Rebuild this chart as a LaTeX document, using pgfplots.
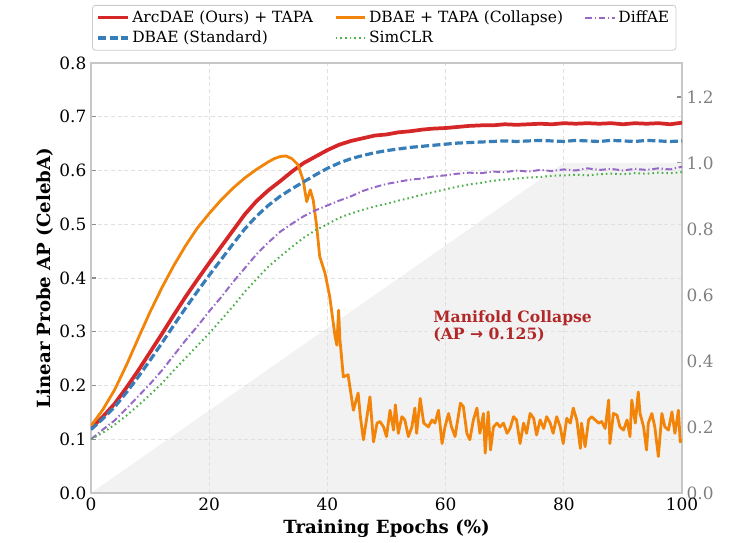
\documentclass[border=0pt]{standalone}
\usepackage{fontspec}
\setmainfont{DejaVu Serif}
\newfontfamily\arrowfont{DejaVu Sans}
\usepackage{pgfplots}
\pgfplotsset{compat=1.18}

\definecolor{cRed}{RGB}{214,39,40}
\definecolor{cOrange}{RGB}{242,132,10}
\definecolor{cBlue}{RGB}{55,126,184}
\definecolor{cGreen}{RGB}{77,175,74}
\definecolor{cPurple}{RGB}{150,105,200}
\definecolor{cNote}{RGB}{178,40,40}

\begin{document}
\begin{tikzpicture}
% secondary axis: shaded region
\begin{axis}[
  scale only axis, width=443.25pt, height=322.5pt,
  xmin=0, xmax=100, ymin=0, ymax=1.303,
  axis x line=none, axis y line*=right,
  y axis line style={draw=none},
  ytick={0,0.2,0.4,0.6,0.8,1.0,1.2},
  /pgf/number format/assume math mode=true,
  yticklabel style={text=black!50, font=\fontsize{12.7}{14}\selectfont,
    /pgf/number format/.cd, fixed, fixed zerofill, precision=1},
  ytick style={draw=black!45, line width=0.8pt},
  major tick length=3.5pt,
]
\addplot[draw=none, fill=black!5] coordinates {(0,0) (80,1) (100,1)} \closedcycle;
\end{axis}

% main axis
\begin{axis}[
  scale only axis, width=443.25pt, height=322.5pt,
  xmin=0, xmax=100, ymin=0, ymax=0.8,
  xtick={0,20,40,60,80,100},
  ytick={0,0.1,0.2,0.3,0.4,0.5,0.6,0.7,0.8},
  /pgf/number format/assume math mode=true,
  ticklabel style={font=\fontsize{12.7}{14}\selectfont},
  yticklabel style={/pgf/number format/.cd, fixed, fixed zerofill, precision=1},
  xtick style={draw=none},
  ytick style={draw=black!45, line width=0.8pt},
  ytick pos=left,
  major tick length=3.5pt,
  grid=major,
  major grid style={draw=black!12, line width=0.6pt, dash pattern=on 3pt off 2pt},
  axis line style={draw=black!22, line width=1.3pt},
  xlabel={Training Epochs (\%)},
  ylabel={Linear Probe AP (CelebA)},
  label style={font=\fontsize{13.6}{15}\selectfont\bfseries},
  ylabel style={yshift=-2pt},
  legend style={at={(0.002,1.135)}, anchor=north west, legend columns=3,
    draw=black!20, line width=0.6pt, rounded corners=2pt,
    font=\fontsize{11.6}{13.5}\selectfont,
    /tikz/every even column/.append style={column sep=14pt},
    /tikz/row sep=1pt},
  legend cell align=left,
  legend image code/.code={\draw[#1] (0pt,0pt) -- (22pt,0pt);},
]
\addplot[cRed, line width=2.8pt, line join=round] coordinates {
(0,0.120) (2,0.142) (4,0.166) (6,0.196) (8,0.228) (10,0.262) (12,0.296) (14,0.331)
(16,0.365) (18,0.397) (20,0.428) (22,0.458) (24,0.488) (26,0.518) (28,0.543) (30,0.563)
(32,0.580) (34,0.598) (36,0.614) (38,0.626) (40,0.638) (42,0.648) (44,0.655) (46,0.660)
(48,0.665) (50,0.667) (52,0.671) (54,0.673) (56,0.676) (58,0.678) (60,0.679) (62,0.681)
(64,0.683) (66,0.684) (68,0.684) (70,0.686) (72,0.685) (74,0.686) (76,0.687) (78,0.686)
(80,0.688) (82,0.687) (84,0.688) (86,0.687) (88,0.688) (90,0.686) (92,0.688) (94,0.687)
(96,0.688) (98,0.686) (100,0.689)};
\addlegendentry{ArcDAE (Ours) + TAPA}

\addplot[cOrange, line width=2.1pt, line join=round] coordinates {
(0,0.125) (2,0.155) (4,0.192) (6,0.238) (8,0.288) (10,0.337) (12,0.382) (14,0.423)
(16,0.460) (18,0.493) (20,0.520) (22,0.545) (24,0.567) (26,0.586) (28,0.602) (30,0.616)
(31,0.622) (32,0.626) (33,0.627) (34,0.622) (35,0.611) (35.9,0.582) (36.5,0.542) (37.1,0.564)
(37.6,0.545) (38.2,0.495) (38.7,0.440) (39.6,0.409) (40.4,0.365) (41.3,0.291) (41.6,0.275)
(41.9,0.340) (42.1,0.288) (42.7,0.216) (43.5,0.220) (44.4,0.154) (45.2,0.186) (45.6,0.140)
(46.1,0.099) (47.2,0.179) (47.8,0.095) (48.4,0.130) (48.9,0.133) (49.5,0.123) (50.0,0.105)
(50.6,0.154) (51.2,0.117) (51.5,0.164) (52.0,0.111) (52.6,0.142) (53.1,0.136) (53.7,0.105)
(54.3,0.123) (54.8,0.158) (55.1,0.111) (55.7,0.176) (56.3,0.130) (57.1,0.123) (57.7,0.136)
(58.2,0.130) (58.8,0.154) (59.4,0.092) (59.9,0.123) (60.5,0.148) (61.0,0.123) (61.6,0.105)
(62.5,0.167) (63.0,0.161) (63.6,0.111) (64.1,0.099) (64.7,0.136) (65.3,0.158) (65.8,0.111)
(66.4,0.148) (66.7,0.074) (67.2,0.151) (67.6,0.080) (68.1,0.123) (68.7,0.130) (69.2,0.123)
(69.8,0.130) (70.4,0.111) (70.9,0.120) (71.5,0.142) (72.0,0.136) (72.6,0.092) (73.2,0.130)
(73.7,0.111) (74.3,0.148) (74.9,0.139) (75.4,0.108) (76.0,0.136) (76.6,0.120) (77.1,0.142)
(77.7,0.130) (78.2,0.111) (78.8,0.142) (79.4,0.123) (79.9,0.092) (80.5,0.139) (81.1,0.130)
(81.6,0.158) (82.2,0.136) (82.8,0.083) (83.0,0.130) (83.6,0.086) (84.2,0.136) (84.7,0.142)
(85.3,0.136) (85.9,0.130) (86.4,0.133) (87.0,0.120) (87.6,0.173) (87.8,0.092) (88.4,0.148)
(89.0,0.145) (89.5,0.123) (90.1,0.117) (90.7,0.136) (91.2,0.105) (91.5,0.173) (92.1,0.130)
(92.6,0.188) (92.9,0.148) (93.5,0.123) (94.0,0.080) (94.3,0.130) (94.9,0.148) (95.4,0.123)
(96.0,0.068) (96.6,0.148) (97.1,0.123) (97.7,0.117) (98.3,0.151) (98.8,0.111) (99.4,0.154)
(99.7,0.095) (100,0.100)};
\addlegendentry{DBAE + TAPA (Collapse)}

\addplot[cPurple, line width=1.5pt, dash pattern=on 5pt off 2pt on 1pt off 2pt] coordinates {
(0,0.100) (2,0.118) (4,0.135) (6,0.157) (8,0.180) (10,0.203) (12,0.228) (14,0.256)
(16,0.284) (18,0.310) (20,0.338) (22,0.364) (24,0.392) (26,0.418) (28,0.444) (30,0.466)
(32,0.486) (34,0.501) (36,0.515) (38,0.526) (40,0.535) (42,0.544) (44,0.552) (46,0.562)
(48,0.569) (50,0.575) (52,0.579) (54,0.583) (56,0.585) (58,0.589) (60,0.591) (62,0.594)
(64,0.596) (66,0.595) (68,0.598) (70,0.597) (72,0.600) (74,0.598) (76,0.601) (78,0.599)
(80,0.602) (82,0.600) (84,0.604) (86,0.601) (88,0.603) (90,0.600) (92,0.603) (94,0.601)
(96,0.604) (98,0.602) (100,0.607)};
\addlegendentry{DiffAE}

\addplot[cBlue, line width=2.4pt, dash pattern=on 6pt off 2.5pt] coordinates {
(0,0.118) (2,0.138) (4,0.160) (6,0.187) (8,0.216) (10,0.247) (12,0.279) (14,0.312)
(16,0.344) (18,0.375) (20,0.405) (22,0.434) (24,0.463) (26,0.491) (28,0.515) (30,0.535)
(32,0.552) (34,0.566) (36,0.579) (38,0.592) (40,0.604) (42,0.614) (44,0.622) (46,0.628)
(48,0.633) (50,0.637) (52,0.640) (54,0.643) (56,0.645) (58,0.647) (60,0.649) (62,0.651)
(64,0.652) (66,0.653) (68,0.654) (70,0.655) (72,0.654) (74,0.655) (76,0.656) (78,0.655)
(80,0.654) (82,0.656) (84,0.655) (86,0.654) (88,0.656) (90,0.655) (92,0.654) (94,0.656)
(96,0.655) (98,0.654) (100,0.655)};
\addlegendentry{DBAE (Standard)}

\addplot[cGreen, line width=1.5pt, dash pattern=on 1.2pt off 2.3pt] coordinates {
(0,0.100) (2,0.112) (4,0.127) (6,0.144) (8,0.163) (10,0.183) (12,0.204) (14,0.228)
(16,0.251) (18,0.274) (20,0.297) (22,0.322) (24,0.347) (26,0.374) (28,0.398) (30,0.421)
(32,0.440) (34,0.458) (36,0.475) (38,0.489) (40,0.500) (42,0.512) (44,0.520) (46,0.527)
(48,0.533) (50,0.538) (52,0.544) (54,0.549) (56,0.555) (58,0.560) (60,0.565) (62,0.570)
(64,0.574) (66,0.577) (68,0.581) (70,0.583) (72,0.585) (74,0.587) (76,0.588) (78,0.590)
(80,0.591) (82,0.592) (84,0.591) (86,0.593) (88,0.594) (90,0.593) (92,0.595) (94,0.594)
(96,0.596) (98,0.595) (100,0.597)};
\addlegendentry{SimCLR}

\node[anchor=north west, inner sep=0pt, align=left, text=cNote,
  font=\fontsize{11.7}{13.2}\selectfont\bfseries] at (axis cs:57.9,0.340)
  {Manifold Collapse\\(AP {\arrowfont →} 0.125)};
\end{axis}
\path (-68.25pt,-37.5pt) rectangle (478.5pt,369.75pt);
\end{tikzpicture}
\end{document}
